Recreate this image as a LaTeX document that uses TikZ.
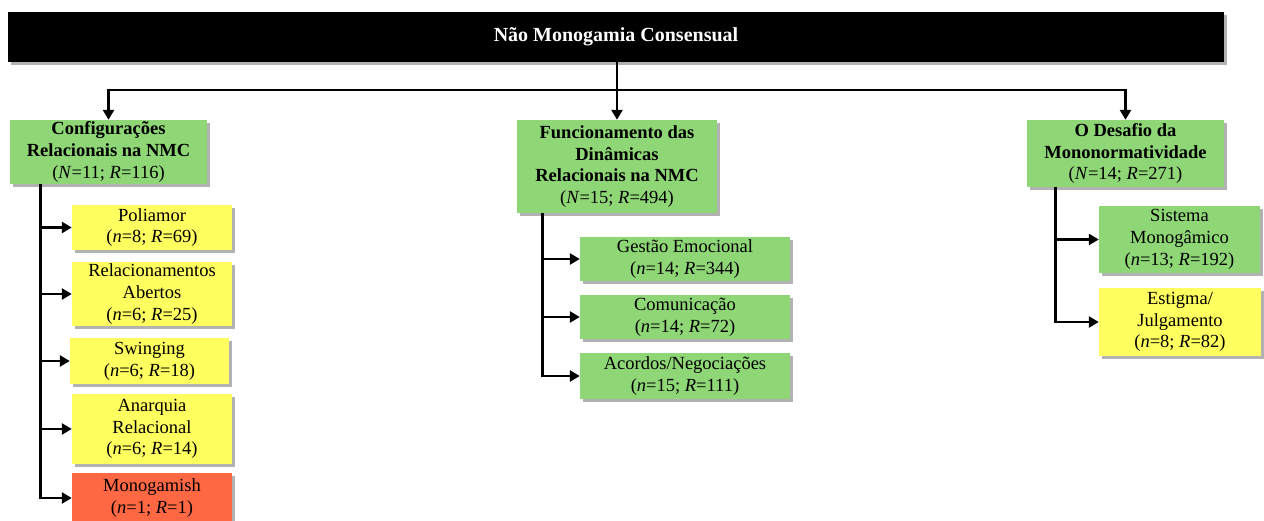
\documentclass[tikz,border=0pt]{standalone}
\usepackage{fontspec}
\setmainfont{Liberation Serif}
\usetikzlibrary{arrows.meta,shadows}
\definecolor{gr}{RGB}{142,214,118}
\definecolor{yl}{RGB}{255,255,95}
\definecolor{rd}{RGB}{255,104,66}
\begin{document}
\begin{tikzpicture}[x=1pt,y=-1pt,
  box/.style={rectangle, inner sep=0pt, align=center,
    font=\fontsize{18.5}{21.7}\selectfont,
    drop shadow={shadow xshift=3pt, shadow yshift=-3pt, opacity=0.3, fill=black}},
  arr/.style={line width=2.8pt, -{Triangle[length=10pt,width=11pt]}},
  ln/.style={line width=2.8pt}]
\useasboundingbox (0,0) rectangle (1264,520);
\fill[white] (0,0) rectangle (1264,520);

% top bar
\node[box, fill=black, text=white, minimum width=1216pt, minimum height=50pt,
  font=\fontsize{20}{22}\selectfont\bfseries] (top) at (616,37) {Não Monogamia Consensual};

% level 1
\node[box, fill=gr, minimum width=197pt, minimum height=64pt] (conf) at (108.5,152)
  {\textbf{Configurações}\\\textbf{Relacionais na NMC}\\(\textit{N}=11; \textit{R}=116)};
\node[box, fill=gr, minimum width=200pt, minimum height=93pt] (func) at (617,166.5)
  {\textbf{Funcionamento das}\\\textbf{Dinâmicas}\\\textbf{Relacionais na NMC}\\(\textit{N}=15; \textit{R}=494)};
\node[box, fill=gr, minimum width=197pt, minimum height=67pt] (des) at (1125.5,153.5)
  {\textbf{O Desafio da}\\\textbf{Mononormatividade}\\(\textit{N}=14; \textit{R}=271)};

% left children
\node[box, fill=yl, minimum width=160pt, minimum height=45pt] (poli) at (152,227.5)
  {Poliamor\\(\textit{n}=8; \textit{R}=69)};
\node[box, fill=yl, minimum width=160pt, minimum height=64pt] (rel) at (152,294)
  {Relacionamentos\\Abertos\\(\textit{n}=6; \textit{R}=25)};
\node[box, fill=yl, minimum width=159pt, minimum height=46pt] (swing) at (149.5,361)
  {Swinging\\(\textit{n}=6; \textit{R}=18)};
\node[box, fill=yl, minimum width=160pt, minimum height=70pt] (anar) at (152,429)
  {Anarquia\\Relacional\\(\textit{n}=6; \textit{R}=14)};
\node[box, fill=rd, minimum width=160pt, minimum height=50pt] (mono) at (152,498)
  {Monogamish\\(\textit{n}=1; \textit{R}=1)};

% middle children
\node[box, fill=gr, minimum width=210pt, minimum height=44pt] (gest) at (685,259)
  {Gestão Emocional\\(\textit{n}=14; \textit{R}=344)};
\node[box, fill=gr, minimum width=210pt, minimum height=44pt] (com) at (685,317)
  {Comunicação\\(\textit{n}=14; \textit{R}=72)};
\node[box, fill=gr, minimum width=210pt, minimum height=46pt] (acc) at (685,376)
  {Acordos/Negociações\\(\textit{n}=15; \textit{R}=111)};

% right children
\node[box, fill=gr, minimum width=161pt, minimum height=67pt] (sis) at (1179.5,239.5)
  {Sistema\\Monogâmico\\(\textit{n}=13; \textit{R}=192)};
\node[box, fill=yl, minimum width=162pt, minimum height=68pt] (est) at (1180,322)
  {Estigma/\\Julgamento\\(\textit{n}=8; \textit{R}=82)};

% top connectors
\coordinate (hb) at (617,90);
\draw[arr] (top.south -| func.north) -- (func.north);
\draw[arr] (hb) -| (conf.north);
\draw[arr] (hb) -| (des.north);

% left branch
\coordinate (lt) at ([xshift=31pt]conf.south west);
\foreach \c in {poli,rel,swing,anar,mono}
  \draw[arr] (lt) |- (\c.west);

% middle branch
\coordinate (mt) at ([xshift=26pt]func.south west);
\foreach \c in {gest,com,acc}
  \draw[arr] (mt) |- (\c.west);

% right branch
\coordinate (rt) at ([xshift=29pt]des.south west);
\foreach \c in {sis,est}
  \draw[arr] (rt) |- (\c.west);
\end{tikzpicture}
\end{document}
